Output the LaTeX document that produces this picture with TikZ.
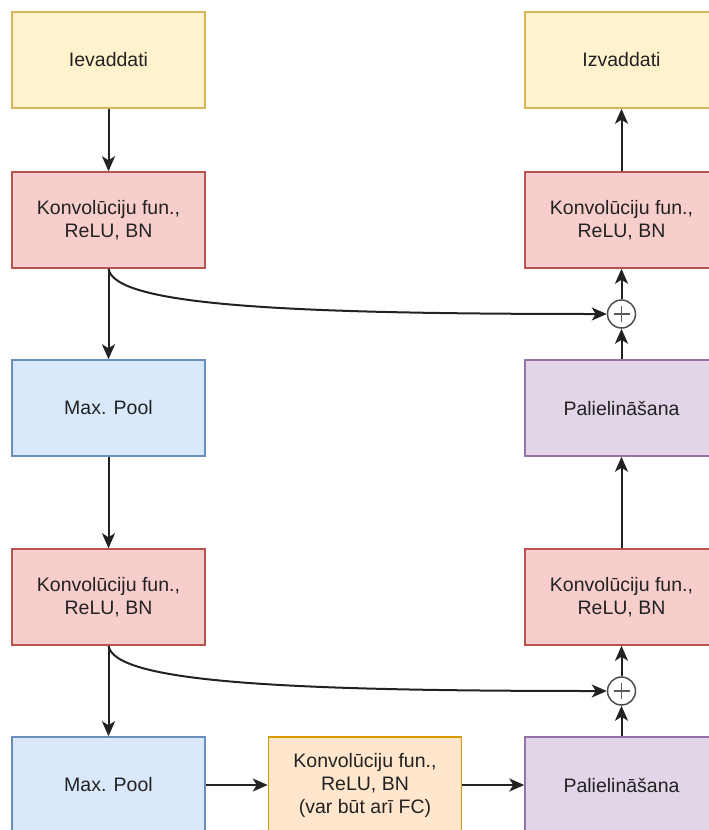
\documentclass[tikz,border=0pt]{standalone}
\usepackage{fontspec}
\setmainfont{Liberation Sans}
\usetikzlibrary{arrows.meta}

\definecolor{yelFill}{HTML}{FFF2CC}\definecolor{yelLine}{HTML}{D6B656}
\definecolor{redFill}{HTML}{F8CECC}\definecolor{redLine}{HTML}{B85450}
\definecolor{bluFill}{HTML}{DAE8FC}\definecolor{bluLine}{HTML}{6C8EBF}
\definecolor{purFill}{HTML}{E1D5E7}\definecolor{purLine}{HTML}{9673A6}
\definecolor{orgFill}{HTML}{FFE6CC}\definecolor{orgLine}{HTML}{D79B00}
\definecolor{ink}{HTML}{222222}

\tikzset{
  block/.style={draw, line width=1.5pt, minimum width=193pt, minimum height=96pt,
    inner sep=0pt, align=center, text=ink, font=\fontsize{19.5}{23}\selectfont},
  inbox/.style={block, fill=yelFill, draw=yelLine},
  convbox/.style={block, fill=redFill, draw=redLine},
  poolbox/.style={block, fill=bluFill, draw=bluLine},
  upbox/.style={block, fill=purFill, draw=purLine},
  midbox/.style={block, fill=orgFill, draw=orgLine},
  sumnode/.style={circle, draw=ink!80, line width=1.5pt, minimum size=28pt, inner sep=0pt, fill=white},
  flow/.style={draw=ink, line width=2pt, -{Stealth[length=15pt,width=13pt,inset=4pt]}}
}

\begin{document}
\begin{tikzpicture}[x=1pt,y=-1pt]
  \useasboundingbox (0,0) rectangle (709,830);

  % left column (encoder)
  \node[inbox]   (in)  at (108.5,60)  {Ievaddati};
  \node[convbox] (c1)  at (108.5,220) {Konvolūciju fun.,\\ReLU, BN};
  \node[poolbox] (p1)  at (108.5,408) {Max. Pool};
  \node[convbox] (c2)  at (108.5,597) {Konvolūciju fun.,\\ReLU, BN};
  \node[poolbox] (p2)  at (108.5,785) {Max. Pool};

  % bottleneck
  \node[midbox]  (mid) at (365,785)   {Konvolūciju fun.,\\ReLU, BN\\(var būt arī FC)};

  % right column (decoder)
  \node[inbox]   (out) at (621.5,60)  {Izvaddati};
  \node[convbox] (d1)  at (621.5,220) {Konvolūciju fun.,\\ReLU, BN};
  \node[upbox]   (u1)  at (621.5,408) {Palielināšana};
  \node[convbox] (d2)  at (621.5,597) {Konvolūciju fun.,\\ReLU, BN};
  \node[upbox]   (u2)  at (621.5,785) {Palielināšana};

  % skip-connection sums
  \node[sumnode] (s1) at (621.5,314) {};
  \node[sumnode] (s2) at (621.5,691) {};
  \foreach \s in {s1,s2}{
    \draw[ink!75, line width=1.3pt] ([xshift=-8pt]\s.center) -- ([xshift=8pt]\s.center)
                                    ([yshift=-8pt]\s.center) -- ([yshift=8pt]\s.center);
  }

  % main flow
  \draw[flow] (in) -- (c1);
  \draw[flow] (c1) -- (p1);
  \draw[flow] (p1) -- (c2);
  \draw[flow] (c2) -- (p2);
  \draw[flow] (p2) -- (mid);
  \draw[flow] (mid) -- (u2);
  \draw[flow] (u2) -- (s2);
  \draw[flow] (s2) -- (d2);
  \draw[flow] (d2) -- (u1);
  \draw[flow] (u1) -- (s1);
  \draw[flow] (s1) -- (d1);
  \draw[flow] (d1) -- (out);

  % skip connections
  \draw[flow] (c1.south) .. controls +(6,36) and +(-330,0) .. (s1.west);
  \draw[flow] (c2.south) .. controls +(6,36) and +(-330,0) .. (s2.west);
\end{tikzpicture}
\end{document}
